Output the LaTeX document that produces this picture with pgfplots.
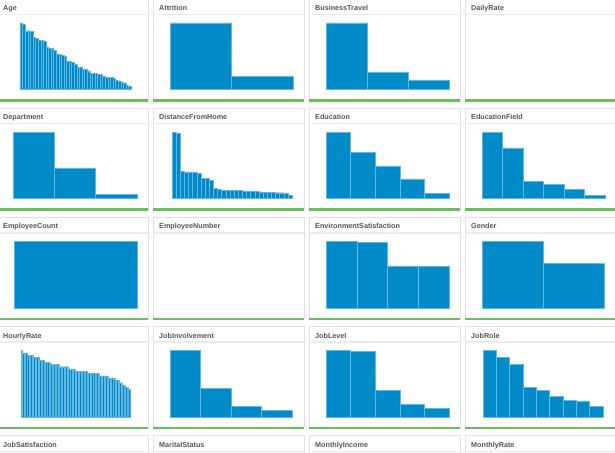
\documentclass[border=0pt]{standalone}
\usepackage{fontspec}
\setmainfont{Liberation Sans}
\usepackage{pgfplots}
\usepackage{pgfplotstable}
\pgfplotsset{compat=1.18}

\definecolor{qblue}{HTML}{008AC8}
\definecolor{qedge}{HTML}{62B6E2}
\definecolor{qgreen}{HTML}{6ABF5C}
\definecolor{pborder}{HTML}{E0E0E0}
\definecolor{phead}{HTML}{EBEBEB}
\definecolor{ptitle}{HTML}{555555}

% value counts, largest first
\pgfplotstableread{
n
78
77
69
69
68
61
60
58
58
57
50
48
48
46
42
41
40
39
33
33
32
30
26
26
24
24
22
19
19
19
18
18
16
14
14
14
13
11
10
9
8
5
4
}\tabAge
\pgfplotstableread{
n
1233
237
}\tabAttrition
\pgfplotstableread{
n
1043
277
150
}\tabTravel
\pgfplotstableread{
n
961
446
63
}\tabDepartment
\pgfplotstableread{
n
211
208
86
85
84
84
80
65
64
59
32
29
28
27
27
26
26
25
25
25
23
22
21
20
20
19
19
18
12
}\tabDistance
\pgfplotstableread{
n
572
398
282
170
48
}\tabEducation
\pgfplotstableread{
n
606
464
159
132
82
27
}\tabEduField
\pgfplotstableread{
n
1470
}\tabEmpCount
\pgfplotstableread{
n
453
446
287
284
}\tabEnvSat
\pgfplotstableread{
n
882
588
}\tabGender
\pgfplotstableread{
n
29
28
28
28
27
27
27
27
26
26
26
26
25
25
25
24
24
24
24
23
23
23
23
23
23
22
22
22
22
22
22
21
21
21
21
20
20
20
20
20
20
20
20
19
19
19
19
19
19
19
19
18
18
18
18
18
18
17
17
17
17
16
16
16
15
15
14
14
13
13
12
}\tabHourly
\pgfplotstableread{
n
868
375
144
83
}\tabInvolve
\pgfplotstableread{
n
543
534
218
106
69
}\tabJobLevel
\pgfplotstableread{
n
326
292
259
145
131
102
83
80
52
}\tabJobRole

\pgfplotsset{
  mini/.style={scale only axis, hide axis, height=66.5pt, ymin=0, xmin=0,
    enlargelimits=false, anchor=south west, clip=false},
  minibar/.style={ybar, bar width=1, bar shift=0pt, fill=qblue, draw=qedge,
    line width=0.5pt},
}

% #1 left, #2 top (measured downward), #3 title
\newcommand{\panel}[3]{%
  \pgfmathsetmacro\PL{#1}%
  \pgfmathsetmacro\PR{#1+151}%
  \pgfmathsetmacro\PT{452-#2}%
  \pgfmathsetmacro\PB{452-#2-101.5}%
  \pgfmathsetmacro\PH{452-#2-15.5}%
  \pgfmathsetmacro\PY{452-#2-11.6}%
  \draw[pborder, line width=0.8pt] (\PL pt,\PB pt) -- (\PL pt,\PT pt) -- (\PR pt,\PT pt) -- (\PR pt,\PB pt);
  \draw[phead, line width=1.5pt] (\PL pt,\PH pt) -- (\PR pt,\PH pt);
  \node[anchor=base west, inner sep=0pt, text=ptitle,
        font=\bfseries\fontsize{7.2}{8}\selectfont] at (\PL pt+6pt,\PY pt) {#3};
  \draw[qgreen, line width=2.5pt] (\PL pt,\PB pt) -- (\PR pt,\PB pt);
}

% #1 left x, #2 right x, #3 bottom y (upward), #4 bars, #5 ymax, #6 table, #7 edge width
\newcommand{\hist}[7][0.5pt]{%
  \pgfmathsetmacro\HW{#3-#2}%
  \begin{axis}[mini, at={(#2pt,#4pt)}, width=\HW pt, xmax=#5, ymax=#6]
    \addplot[minibar, line width=#1] table[x expr=\coordindex+0.5, y=n] {#7};
  \end{axis}%
}

\begin{document}
\begin{tikzpicture}
\useasboundingbox (0,0) rectangle (615pt,452pt);
\clip (0,0) rectangle (615pt,452pt);

% row 1
\panel{-3}{-1}{Age}
\panel{153}{-1}{Attrition}
\panel{309}{-1}{BusinessTravel}
\panel{465}{-1}{DailyRate}
% row 2
\panel{-3}{108.2}{Department}
\panel{153}{108.2}{DistanceFromHome}
\panel{309}{108.2}{Education}
\panel{465}{108.2}{EducationField}
% row 3
\panel{-3}{217.4}{EmployeeCount}
\panel{153}{217.4}{EmployeeNumber}
\panel{309}{217.4}{EnvironmentSatisfaction}
\panel{465}{217.4}{Gender}
% row 4
\panel{-3}{326.6}{HourlyRate}
\panel{153}{326.6}{JobInvolvement}
\panel{309}{326.6}{JobLevel}
\panel{465}{326.6}{JobRole}
% row 5
\panel{-3}{435.8}{JobSatisfaction}
\panel{153}{435.8}{MaritalStatus}
\panel{309}{435.8}{MonthlyIncome}
\panel{465}{435.8}{MonthlyRate}

\hist[0.3pt]{20}{131}{362.5}{43}{78}{\tabAge}
\hist{170}{293}{362.5}{2}{1233}{\tabAttrition}
\hist{326}{449}{362.5}{3}{1043}{\tabTravel}

\hist{13}{137}{253.3}{3}{961}{\tabDepartment}
\hist[0.4pt]{172}{292}{253.3}{29}{211}{\tabDistance}
\hist{326}{449}{253.3}{5}{572}{\tabEducation}
\hist{482}{605}{253.3}{6}{606}{\tabEduField}

\hist{14}{137}{144.1}{1}{1470}{\tabEmpCount}
\hist{326}{449}{144.1}{4}{453}{\tabEnvSat}
\hist{482}{604}{144.1}{2}{882}{\tabGender}

\hist[0.25pt]{21}{130}{34.9}{71}{29}{\tabHourly}
\hist{170}{292}{34.9}{4}{868}{\tabInvolve}
\hist{326}{449}{34.9}{5}{543}{\tabJobLevel}
\hist{483}{603}{34.9}{9}{326}{\tabJobRole}
\end{tikzpicture}
\end{document}
